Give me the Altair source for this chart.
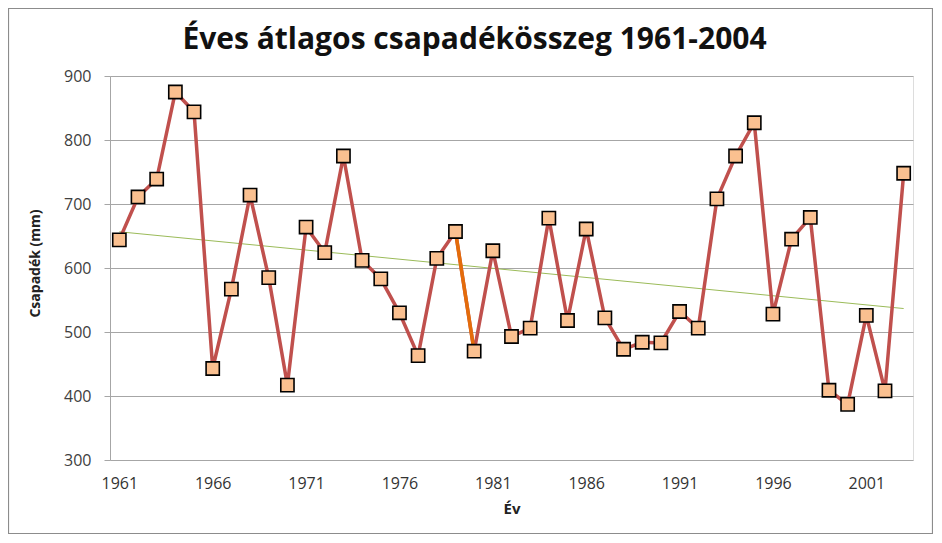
import altair as alt
import pandas as pd

years = list(range(1961, 2004))
values = [644, 711, 739, 875, 844, 443, 567, 714, 585, 417,
          664, 624, 775, 612, 583, 530, 463, 615, 657, 470,
          627, 493, 506, 678, 518, 661, 522, 473, 484, 483,
          532, 506, 708, 775, 827, 528, 645, 679, 409, 387,
          526, 408, 748]
highlight_years = [1979, 1980]
tick_years = [1961, 1966, 1971, 1976, 1981, 1986, 1991, 1996, 2001]
y_ticks = [300, 400, 500, 600, 700, 800, 900]

df = pd.DataFrame({"year": years, "value": values})

FONT = "Open Sans"
W, H = 803, 384

x = alt.X("year:Q", scale=alt.Scale(domain=[1960.5, 2003.5], nice=False, zero=False),
          axis=alt.Axis(values=tick_years, format="d", grid=False, domain=False, ticks=False,
                        labelPadding=15, labelFontSize=16, labelColor="#333333", labelFont=FONT,
                        title="Év", titleFont=FONT, titleFontSize=15, titleFontWeight="bold",
                        titleColor="#222222", titlePadding=10))
y = alt.Y("value:Q", scale=alt.Scale(domain=[300, 900], nice=False, zero=False),
          axis=alt.Axis(values=y_ticks, grid=True, gridColor="#a6a6a6", gridWidth=1,
                        domainColor="#a6a6a6", tickColor="#a6a6a6", tickSize=6,
                        labelPadding=13, labelFontSize=16, labelColor="#404040", labelFont=FONT,
                        title="Csapadék (mm)", titleFont=FONT, titleFontSize=14,
                        titleFontWeight="bold", titleColor="#222222",
                        titleX=-75, titleY=187, titleBaseline="middle", titleAngle=-90))

base = alt.Chart(df)

line = base.mark_line(color="#C0504D", strokeWidth=3.5).encode(x=x, y=y)
seg = base.transform_filter(alt.FieldOneOfPredicate(field="year", oneOf=highlight_years)).mark_line(
    color="#E46C0A", strokeWidth=3.5).encode(x="year:Q", y="value:Q")
trend = base.transform_regression("year", "value", extent=[1961, 2003]).mark_line(
    color="#9BBB59", strokeWidth=1).encode(x="year:Q", y="value:Q")
pts = base.mark_point(shape="square", size=175, filled=True, fill="#FAC090", stroke="#000000",
                      strokeWidth=1.6, opacity=1).encode(x="year:Q", y="value:Q")

border = alt.Chart(pd.DataFrame({"k": [0]})).mark_rect(
    fill=None, stroke="#8c8c8c", strokeWidth=1.2).encode(
    x=alt.value(-101.5), x2=alt.value(822.5), y=alt.value(-67.5), y2=alt.value(457.5))

chart = alt.layer(border, trend, line, seg, pts).properties(
    width=W, height=H,
    title=alt.TitleParams("Éves átlagos csapadékösszeg 1961-2004", font=FONT, fontSize=30,
                          fontWeight="bold", color="#111111", anchor="middle", dx=-37,
                          offset=0, dy=47),
    autosize=alt.AutoSizeParams(type="none"),
    padding={"left": 102, "top": 68, "right": 20, "bottom": 74},
).configure_view(stroke=None).configure(background="white")

chart.save("out.html", embed_options={"renderer": "svg", "actions": False})
